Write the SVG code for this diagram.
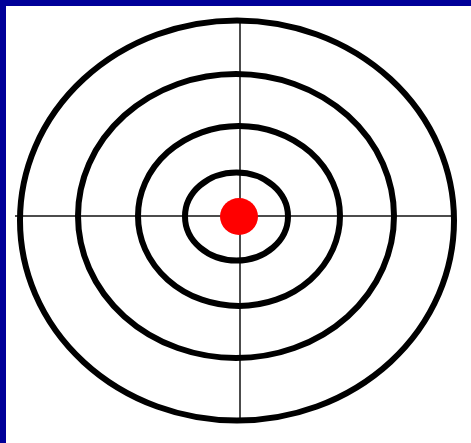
<svg xmlns="http://www.w3.org/2000/svg" width="471" height="443" viewBox="0 0 471 443">
<style>
.ring{fill:none;stroke:#000;stroke-width:6}
.hair{stroke:#111;stroke-width:1.5;fill:none}
</style>
<rect x="0" y="0" width="471" height="443" fill="#fff"/>
<rect x="0" y="0" width="471" height="6" fill="#000099"/>
<rect x="0" y="0" width="6" height="443" fill="#000099"/>
<g id="connectors">
<line class="hair" x1="15" y1="216" x2="455" y2="216"/>
<line class="hair" x1="240" y1="20" x2="240" y2="421"/>
</g>
<g id="ring4"><ellipse class="ring" cx="237" cy="220.5" rx="217" ry="200"/></g>
<g id="ring3"><ellipse class="ring" cx="236" cy="216" rx="158" ry="142"/></g>
<g id="ring2"><ellipse class="ring" cx="239" cy="216" rx="101" ry="90"/></g>
<g id="ring1"><ellipse class="ring" cx="236.5" cy="216.5" rx="51.5" ry="44"/></g>
<g id="bullseye"><ellipse cx="239" cy="216.5" rx="19" ry="18.5" fill="#ff0000"/></g>
</svg>
